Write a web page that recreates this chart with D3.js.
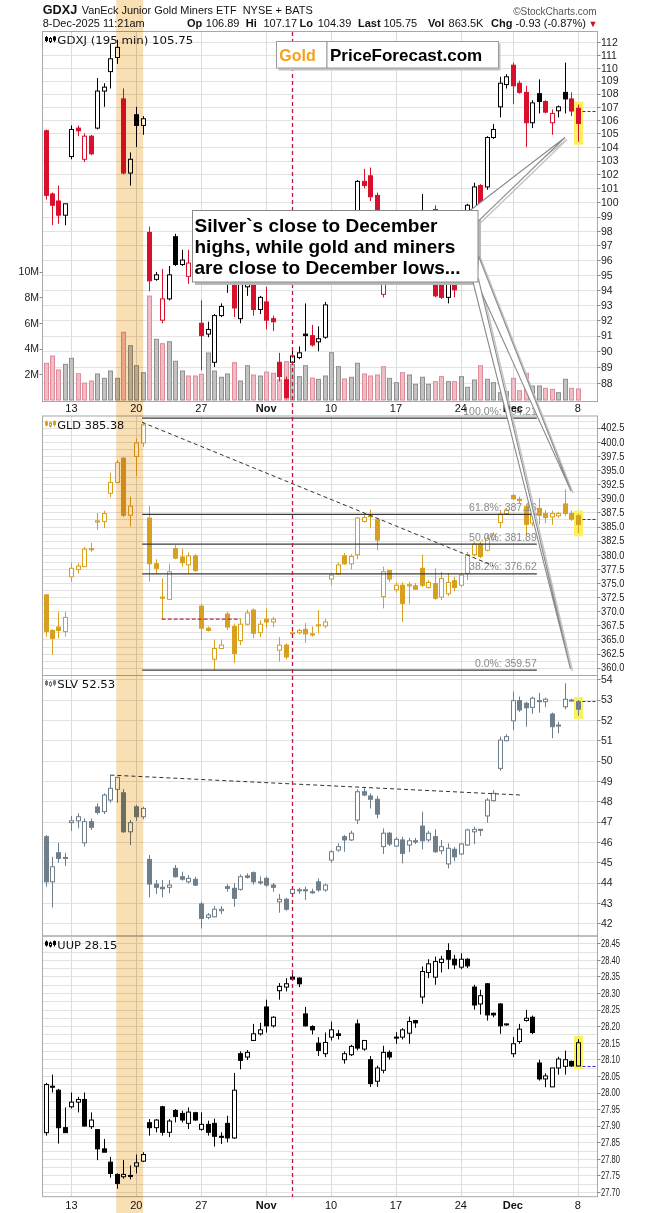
<!DOCTYPE html>
<meta charset="utf-8">
<style>

body {
  margin: 0;
  background: #fff;
}

svg {
  display: block;
  font-family: "Liberation Sans", Arial, sans-serif;
}

</style>
<svg width="646" height="1213"></svg>
<script src="https://d3js.org/d3.v7.min.js"></script>
<script>

// 195-minute bars, Oct 9 2025 .. Dec 8 2025, values are [open, high, low, close]
var gdxj = [
  [105.2,105.3,100.2,100.5],[100.6,100.7,98.4,99.8],[100.1,101.2,98.5,99.1],[99.1,99.9,98.4,99.9],
  [103.3,105.6,103.1,105.3],[105.4,105.6,104.8,105.2],[103.1,105.0,102.9,104.8],[104.8,104.9,103.4,103.5],
  [105.4,109.2,105.3,108.2],[108.2,108.8,107.0,108.5],[109.7,111.9,108.4,110.7],[110.8,112.2,110.3,111.6],
  [107.6,108.4,102.0,102.1],[102.1,103.6,101.2,103.1],[106.4,107.0,104.0,105.6],[105.6,106.3,104.9,106.1],
  [97.9,98.3,93.9,94.6],[94.7,95.2,94.6,95.0],[92.0,95.4,91.8,93.4],[93.4,95.6,93.3,95.0],
  [97.6,97.8,95.6,95.7],[95.7,96.7,95.6,96.0],[94.9,96.7,94.4,95.8],[96.0,96.5,95.1,95.3],
  [91.8,93.3,88.8,91.0],[91.1,91.9,90.9,91.4],[89.3,92.4,89.0,92.3],[92.3,93.1,92.2,92.9],
  [95.2,97.5,93.8,96.8],[96.5,97.0,92.2,92.8],[92.1,96.5,91.8,95.8],[94.2,97.3,93.6,96.5],
  [96.0,96.5,92.3,92.7],[92.7,93.6,92.4,93.5],[93.2,94.2,91.4,92.0],[92.1,92.3,91.3,91.9],
  [89.3,89.9,88.1,88.4],[88.2,88.4,87.0,87.1],[89.3,90.2,89.2,89.7],[89.6,90.3,89.5,89.9],
  [91.1,93.1,90.0,91.0],[91.0,91.7,90.3,90.4],[90.6,91.6,90.0,90.8],[90.9,93.2,90.8,93.0],
  [96.5,98.0,96.0,97.5],[97.5,98.5,97.0,98.0],[98.0,98.6,97.2,97.8],[97.8,99.2,97.5,98.8],
  [98.8,101.6,98.5,101.5],[101.5,102.4,101.0,101.2],[101.9,102.5,100.1,100.4],[100.5,100.7,98.8,99.3],
  [93.7,95.5,93.5,94.5],[95.3,97.0,95.1,96.5],[96.5,98.0,96.0,97.5],[97.5,98.0,96.2,96.8],
  [96.5,97.6,96.0,97.2],[97.2,98.2,96.8,97.8],[97.8,100.6,97.4,98.5],[98.5,99.4,98.0,99.2],
  [99.5,99.8,93.5,93.6],[95.5,96.0,93.4,93.5],[93.5,96.0,93.1,95.5],[95.6,96.0,93.5,94.0],
  [95.5,97.5,95.2,97.0],[97.5,99.9,97.0,99.8],[99.0,101.4,98.5,101.1],[101.2,101.3,99.6,99.9],
  [101.1,104.8,100.9,104.7],[104.7,105.7,104.6,105.3],[107.0,109.3,106.2,108.8],[108.7,109.5,108.4,109.3],
  [110.2,110.4,107.2,108.6],[108.8,109.0,108.0,108.1],[108.1,108.6,104.0,105.8],[105.8,107.5,105.4,107.3],
  [108.0,109.1,106.5,107.4],[107.4,107.5,106.5,106.6],[105.8,106.8,104.9,106.5],[106.7,107.1,106.2,107.0],
  [108.1,110.4,106.5,107.6],[107.6,108.1,106.3,106.68],[106.89,107.17,104.39,105.75]
];

// GDXJ volume, millions of shares
var gdxjVolume = [
  2.86,3.43,2.34,2.78,3.25,2.05,1.32,1.48,2.03,1.69,2.26,1.69,5.28,4.23,2.67,2.13,
  8.1,4.73,4.39,4.54,3.02,2.26,1.87,1.87,2.0,3.66,2.26,1.77,2.03,2.91,1.48,2.67,
  1.95,1.87,2.18,2.08,1.56,2.99,2.78,1.82,2.67,1.71,1.61,1.87,3.69,2.6,1.64,1.77,
  2.86,2.03,1.87,1.95,2.6,1.69,1.35,2.13,1.95,1.22,1.77,1.22,1.43,1.82,1.43,1.43,
  1.82,0.99,1.56,2.67,1.61,1.35,0.57,0.65,1.69,0.72,2.08,1.09,1.09,0.91,0.83,0.57,
  1.61,0.91,0.86
];

var gld = [
  [372.9,373.0,365.5,366.4],[366.6,366.8,362.3,365.2],[367.2,369.9,365.2,366.6],[366.4,369.9,365.5,368.9],
  [376.1,378.6,375.2,377.6],[377.4,378.5,376.7,378.0],[377.9,381.4,377.8,381.0],[381.1,382.1,380.5,380.9],
  [385.8,387.4,384.4,386.0],[385.9,387.8,384.7,387.3],[390.9,394.5,390.2,392.8],[392.8,396.8,392.7,396.3],
  [397.1,397.3,386.7,387.0],[387.0,390.3,385.0,388.6],[397.4,400.6,393.9,399.8],[399.8,403.4,399.1,403.0],
  [386.5,388.6,375.2,378.4],[378.4,379.2,376.6,377.6],[372.5,375.8,368.6,372.3],[372.1,378.4,372.0,377.0],
  [381.1,381.7,379.2,379.4],[379.6,381.1,377.9,378.6],[378.2,380.4,376.7,379.8],[379.8,380.1,377.0,377.2],
  [370.9,371.3,364.9,367.0],[367.0,367.3,366.4,366.6],[361.5,365.0,359.6,363.4],[363.4,365.0,363.3,364.0],
  [369.5,369.9,366.7,367.2],[367.3,367.8,360.8,362.5],[364.8,368.7,364.0,367.7],[367.7,370.3,367.5,369.7],
  [370.2,370.5,365.2,366.1],[366.2,368.4,365.4,367.7],[368.6,370.5,367.0,368.1],[368.1,369.0,367.2,368.6],
  [363.1,365.4,361.1,364.0],[364.0,364.3,361.5,361.9],[366.1,366.6,365.8,366.2],[366.2,366.9,365.9,366.6],
  [366.8,367.9,364.4,366.0],[366.0,367.3,365.5,365.8],[367.4,370.2,366.1,367.6],[367.4,368.7,367.0,368.1],
  [375.7,376.8,374.6,376.4],[376.6,378.6,376.4,378.2],[379.8,380.3,378.2,378.4],[378.4,380.1,377.4,379.7],
  [380.0,386.7,379.2,386.5],[385.9,387.0,385.7,386.6],[386.8,388.0,384.7,386.9],[386.2,386.5,380.8,382.6],
  [372.6,377.9,370.5,377.0],[377.2,377.3,375.2,375.7],[373.8,375.1,373.3,374.6],[374.6,375.1,368.1,371.4],
  [374.5,375.2,371.3,374.7],[374.5,375.0,373.8,373.9],[377.6,380.0,374.3,374.6],[374.2,375.5,374.0,375.1],
  [374.9,377.6,372.0,372.3],[372.5,377.0,372.0,375.8],[373.1,376.8,372.7,375.1],[375.4,376.1,373.5,374.2],
  [374.6,376.7,374.3,376.4],[376.7,380.5,375.5,380.0],[380.0,382.3,379.7,381.9],[381.9,382.3,379.4,379.7],
  [380.8,383.5,380.6,382.9],[382.7,384.0,382.5,383.5],[385.7,387.9,384.7,387.2],[387.3,388.3,387.1,387.9],
  [390.5,390.8,389.7,389.9],[389.8,390.3,389.1,389.6],[388.5,388.8,383.5,385.4],[385.6,388.0,385.1,387.3],
  [388.2,390.0,385.4,387.0],[387.3,387.9,385.6,386.6],[386.7,387.8,385.3,387.3],[386.9,387.6,386.5,387.3],
  [389.0,391.6,386.9,387.3],[387.3,387.8,386.0,386.3],[386.9,387.3,383.8,385.38]
];

var slv = [
  [46.26,46.34,43.80,44.04],[44.04,45.27,42.78,44.78],[45.47,45.96,44.98,45.19],[45.24,45.47,44.82,45.20],
  [46.95,47.28,46.55,47.04],[47.04,47.41,46.67,47.24],[45.96,47.16,45.77,47.00],[47.00,47.16,46.59,46.72],
  [47.72,47.90,47.35,47.45],[47.49,48.39,47.37,48.31],[48.06,49.29,47.93,48.64],[48.59,49.20,47.93,49.18],
  [48.42,48.60,46.45,46.50],[46.50,47.08,45.85,46.95],[47.73,47.82,47.04,47.24],[47.24,47.73,47.11,47.65],
  [45.14,45.36,43.28,43.93],[43.93,44.13,43.44,43.77],[43.77,44.13,43.28,43.70],[43.77,44.13,43.47,43.88],
  [44.70,44.87,44.25,44.29],[44.29,44.54,44.10,44.17],[44.04,44.37,43.96,44.21],[44.16,44.29,43.83,43.88],
  [42.95,43.06,41.75,42.24],[42.29,42.50,42.20,42.41],[42.32,42.85,42.29,42.69],[42.62,42.85,42.45,42.69],
  [43.80,43.93,43.55,43.72],[43.72,43.97,42.81,43.23],[43.67,44.40,43.60,44.29],[44.33,44.45,44.20,44.26],
  [44.49,44.55,43.90,44.04],[44.02,44.30,43.90,44.04],[44.21,44.30,43.80,43.88],[43.88,43.98,43.55,43.77],
  [43.06,43.44,42.52,43.18],[43.18,43.25,42.62,42.69],[43.47,43.75,43.40,43.67],[43.62,43.75,43.45,43.65],
  [43.65,43.80,43.15,43.60],[43.55,43.70,43.45,43.50],[44.04,44.21,43.55,43.64],[43.64,43.95,43.55,43.88],
  [45.11,45.60,44.98,45.52],[45.60,45.93,45.52,45.77],[46.26,46.34,45.52,46.10],[46.10,46.55,46.05,46.43],
  [47.08,48.59,46.88,48.47],[48.47,48.65,48.25,48.31],[48.26,48.39,47.65,48.10],[48.10,48.26,47.16,47.37],
  [45.77,46.67,45.41,46.43],[46.43,46.50,45.80,45.90],[45.80,46.25,45.75,46.13],[46.10,46.26,44.95,45.44],
  [45.85,46.20,45.50,46.06],[46.06,46.20,45.90,46.00],[46.78,47.49,45.64,46.06],[46.10,46.55,46.00,46.43],
  [46.26,46.62,45.47,45.52],[45.57,46.10,45.40,45.77],[44.92,45.93,44.70,45.69],[45.64,45.75,45.05,45.27],
  [45.41,45.95,45.35,45.90],[45.85,46.65,45.80,46.59],[46.50,46.75,45.90,46.62],[46.62,46.63,46.30,46.60],
  [47.28,48.16,46.95,48.06],[48.03,48.55,48.00,48.39],[49.62,51.18,49.50,51.01],[50.98,51.30,50.95,51.18],
  [51.96,53.39,51.50,52.95],[52.95,53.15,52.40,52.49],[52.82,52.90,51.67,52.60],[52.62,53.15,52.30,53.07],
  [52.95,53.34,52.36,52.92],[52.90,53.10,52.62,53.02],[52.29,52.36,51.10,51.67],[51.70,51.91,51.34,51.75],
  [52.65,53.80,52.52,53.02],[52.98,53.05,52.90,52.95],[52.90,52.98,52.20,52.53]
];

var uup = [
  [27.879,28.029,27.870,28.024],[28.019,28.054,28.000,28.016],[28.007,28.011,27.846,27.894],[27.894,27.955,27.879,27.879],
  [27.957,28.000,27.952,27.971],[27.971,27.987,27.940,27.979],[27.979,28.000,27.897,27.899],[27.897,27.940,27.890,27.917],
  [27.888,27.890,27.796,27.830],[27.830,27.860,27.826,27.820],[27.790,27.806,27.743,27.756],[27.753,27.756,27.710,27.726],
  [27.746,27.796,27.740,27.753],[27.750,27.780,27.738,27.748],[27.778,27.813,27.756,27.788],[27.793,27.820,27.790,27.813],
  [27.909,27.920,27.870,27.894],[27.894,27.920,27.880,27.917],[27.957,27.960,27.870,27.880],[27.880,27.920,27.866,27.914],
  [27.946,27.950,27.910,27.928],[27.937,27.945,27.910,27.917],[27.907,27.955,27.890,27.941],[27.939,27.942,27.915,27.917],
  [27.889,27.940,27.885,27.904],[27.904,27.915,27.870,27.880],[27.907,27.921,27.837,27.868],[27.868,27.880,27.845,27.866],
  [27.907,27.930,27.850,27.863],[27.863,28.059,27.860,28.007],[28.117,28.124,28.070,28.097],[28.107,28.128,28.098,28.121],
  [28.157,28.207,28.157,28.177],[28.177,28.210,28.172,28.189],[28.258,28.280,28.181,28.201],[28.201,28.230,28.196,28.227],
  [28.307,28.330,28.280,28.320],[28.318,28.345,28.305,28.328],[28.348,28.357,28.340,28.342],[28.345,28.348,28.318,28.328],
  [28.237,28.258,28.199,28.201],[28.199,28.203,28.175,28.189],[28.149,28.167,28.110,28.127],[28.117,28.181,28.107,28.151],
  [28.167,28.214,28.157,28.189],[28.177,28.189,28.160,28.172],[28.099,28.124,28.087,28.117],[28.114,28.144,28.110,28.139],
  [28.207,28.220,28.127,28.134],[28.131,28.157,28.126,28.157],[28.099,28.110,28.017,28.027],[28.034,28.081,28.017,28.074],
  [28.067,28.141,28.058,28.121],[28.121,28.127,28.099,28.107],[28.165,28.182,28.147,28.167],[28.167,28.194,28.160,28.189],
  [28.179,28.229,28.147,28.214],[28.217,28.219,28.195,28.210],[28.288,28.380,28.268,28.365],[28.362,28.402,28.345,28.388],
  [28.348,28.410,28.325,28.395],[28.392,28.412,28.362,28.402],[28.428,28.450,28.372,28.402],[28.402,28.415,28.372,28.385],
  [28.378,28.420,28.372,28.402],[28.402,28.405,28.375,28.382],[28.318,28.325,28.250,28.264],[28.267,28.310,28.235,28.292],
  [28.328,28.330,28.217,28.234],[28.239,28.241,28.227,28.234],[28.267,28.270,28.177,28.201],[28.205,28.208,28.201,28.207],
  [28.117,28.167,28.107,28.147],[28.154,28.207,28.147,28.191],[28.217,28.249,28.214,28.224],[28.227,28.232,28.176,28.181],
  [28.089,28.099,28.036,28.041],[28.041,28.058,28.016,28.050],[28.017,28.074,28.017,28.074],[28.074,28.108,28.054,28.101],
  [28.079,28.126,28.054,28.099],[28.094,28.096,28.077,28.080],[28.080,28.161,28.079,28.150]
];

// x axis: bar index of the first bar of each labelled week
var tickBars = [4, 14, 24, 34, 44, 54, 64, 72, 82];
var tickLabels = ["13", "20", "27", "Nov", "10", "17", "24", "Dec", "8"];

var gdxjTicks = d3.range(88, 113);
var volTicks = [2, 4, 6, 8, 10];
var gldTicks = d3.range(0, 18).map(function(k) { return 360 + 2.5 * k; });
var slvTicks = d3.range(42, 55);
var uupTicks = d3.range(0, 16).map(function(k) { return +(27.70 + 0.05 * k).toFixed(2); });

// Fibonacci retracement on GLD
var fibLevels = [404.21, 387.16, 381.89, 376.62, 359.57];
var fibNames = ["100.0%", "61.8%", "50.0%", "38.2%", "0.0%"];
var fibSpan = [14.9, 75.7];

// trend lines as [bar, price]
var gldTrend = [[14.87, 403.46], [69.0, 378.06]];
var gldSupport = [[17.9, 368.6], [30.0, 368.6]];
var slvTrend = [[10.0, 49.29], [73.1, 48.31]];

var shadeBars = [10.9, 15.05];
var markerBar = 38.0;

var calloutLines = ["Silver`s close to December", "highs, while gold and miners", "are close to December lows..."];

var svg = d3.select("svg");
var left = 42, right = 597.5;

var x = d3.scaleLinear().domain([0, 82]).range([45.5, 577.7]);

var panels = [
  { data: gdxj, top: 31.5, bottom: 401.5, ticks: gdxjTicks, grid: gdxjTicks, fmt: d3.format("d"), squeeze: 1,
    y: d3.scaleLog().domain([88, 112]).range([383, 42.3]), title: "GDXJ (195 min) 105.75", titleW: 136,
    up: "#000", down: "#d8102c", colorByPrev: true, icon: "#000" },
  { data: gld, top: 416, bottom: 675.5, ticks: gldTicks, grid: d3.range(0, 36).map(function(k) { return 360 + 1.25 * k; }),
    fmt: d3.format(".1f"), squeeze: 0.89,
    y: d3.scaleLinear().domain([360, 402.5]).range([667.7, 427.7]), title: "GLD 385.38", titleW: 67,
    up: "#d7a01f", down: "#d7a01f", icon: "#d7a01f" },
  { data: slv, top: 675.5, bottom: 936, ticks: slvTicks, grid: slvTicks, fmt: d3.format("d"), squeeze: 1,
    y: d3.scaleLinear().domain([42, 54]).range([923.3, 679.3]), title: "SLV 52.53", titleW: 58,
    up: "#6e7e8b", down: "#6e7e8b", icon: "#6e7e8b" },
  { data: uup, top: 936, bottom: 1196.7, ticks: uupTicks, grid: d3.range(0, 31).map(function(k) { return 27.70 + 0.025 * k; }),
    fmt: d3.format(".2f"), squeeze: 0.72,
    y: d3.scaleLinear().domain([27.70, 28.45]).range([1192, 943.3]), title: "UUP 28.15", titleW: 60,
    up: "#000", down: "#000", icon: "#000" }
];

var volY = d3.scaleLinear().domain([0, 10]).range([400, 271.7]);

function px(v) { return Math.round(v) + 0.5; }

function isDown(data, i) {
  var ref = i > 0 ? data[i - 1][3] : data[i][0];
  return data[i][3] < ref;
}

svg.append("rect").attr("width", 646).attr("height", 1213).attr("fill", "#fff");

// gridlines and frames
panels.forEach(function(p) {
  var g = svg.append("g");
  g.selectAll("line.h")
    .data(p.grid.filter(function(v) { var yy = p.y(v); return yy > p.top + 1 && yy < p.bottom - 1; }))
    .join("line")
      .attr("x1", left).attr("x2", right)
      .attr("y1", function(v) { return px(p.y(v)); })
      .attr("y2", function(v) { return px(p.y(v)); })
      .attr("stroke", "#e2e2e2");
  g.selectAll("line.v")
    .data(tickBars)
    .join("line")
      .attr("x1", function(b) { return px(x(b)); })
      .attr("x2", function(b) { return px(x(b)); })
      .attr("y1", p.top).attr("y2", p.bottom)
      .attr("stroke", "#dcdcdc");
  g.append("rect")
      .attr("x", left + 0.5).attr("y", p.top)
      .attr("width", right - left - 0.5).attr("height", p.bottom - p.top)
      .attr("fill", "none").attr("stroke", "#a8a8a8");
});

// GDXJ volume
svg.append("g").selectAll("rect")
  .data(gdxjVolume)
  .join("rect")
    .attr("x", function(d, i) { return px(x(i)) - 2; })
    .attr("width", 4)
    .attr("y", function(d) { return volY(d); })
    .attr("height", function(d) { return 400 - volY(d); })
    .attr("fill", function(d, i) { return isDown(gdxj, i) ? "#f2bcc4" : "#c2c2c2"; })
    .attr("stroke", function(d, i) { return isDown(gdxj, i) ? "#df8c9a" : "#8f8f8f"; });

// highlight of the last bar and previous close line
panels.forEach(function(p) {
  var last = p.data.length - 1, d = p.data[last];
  var cx = px(x(last));
  svg.append("rect")
      .attr("x", cx - 4.5).attr("width", 9)
      .attr("y", p.y(d[1]) - 3).attr("height", p.y(d[2]) - p.y(d[1]) + 6)
      .attr("fill", "#fbf15a");
  var prev = p.data[last - 1][3];
  svg.append("line")
      .attr("x1", cx + 4).attr("x2", right)
      .attr("y1", px(p.y(prev))).attr("y2", px(p.y(prev)))
      .attr("stroke", "#2b2bd6").attr("stroke-dasharray", "3,2");
});

// candles
panels.forEach(function(p) {
  var last = p.data.length - 1;
  var g = svg.append("g");
  var color = function(d, i) {
    if (!p.colorByPrev) return p.up;
    return isDown(p.data, i) ? p.down : p.up;
  };
  var c = g.selectAll("g").data(p.data).join("g");
  c.append("line")
      .attr("x1", function(d, i) { return px(x(i)); })
      .attr("x2", function(d, i) { return px(x(i)); })
      .attr("y1", function(d) { return p.y(d[1]); })
      .attr("y2", function(d) { return p.y(d[2]); })
      .attr("stroke", color);
  c.append("rect")
      .attr("x", function(d, i) { return px(x(i)) - 2; })
      .attr("width", 4)
      .attr("y", function(d) { return p.y(Math.max(d[0], d[3])); })
      .attr("height", function(d) { return Math.max(1, Math.abs(p.y(d[0]) - p.y(d[3]))); })
      .attr("fill", function(d, i) { return d[3] < d[0] ? color(d, i) : (i === last ? "#fbf15a" : "#fff"); })
      .attr("stroke", color);
});

// GLD fibonacci lines and trend lines
var gy = panels[1].y;
svg.append("g").selectAll("line")
  .data(fibLevels)
  .join("line")
    .attr("x1", x(fibSpan[0])).attr("x2", x(fibSpan[1]))
    .attr("y1", function(v) { return gy(v); }).attr("y2", function(v) { return gy(v); })
    .attr("stroke", "#3a3a3a").attr("stroke-width", 1.3);

svg.append("g").selectAll("text")
  .data(fibLevels)
  .join("text")
    .attr("x", x(fibSpan[1]))
    .attr("y", function(v) { return gy(v) - 3.5; })
    .attr("text-anchor", "end")
    .attr("font-size", 10.5)
    .attr("fill", "#8a8a8a")
    .text(function(v, i) { return fibNames[i] + ": " + v.toFixed(2); });

var line = function(y) {
  return d3.line().x(function(d) { return x(d[0]); }).y(function(d) { return y(d[1]); });
};

svg.append("path").attr("d", line(gy)(gldTrend))
    .attr("fill", "none").attr("stroke", "#333").attr("stroke-dasharray", "4,3");
svg.append("path").attr("d", line(gy)(gldSupport))
    .attr("fill", "none").attr("stroke", "#c8203c").attr("stroke-dasharray", "4,2").attr("stroke-width", 1.2);
svg.append("path").attr("d", line(panels[2].y)(slvTrend))
    .attr("fill", "none").attr("stroke", "#333").attr("stroke-dasharray", "4,3");

// red vertical marker
svg.append("line")
    .attr("x1", px(x(markerBar))).attr("x2", px(x(markerBar)))
    .attr("y1", 32).attr("y2", 1197)
    .attr("stroke", "#c0183c").attr("stroke-width", 1.3).attr("stroke-dasharray", "4,3");

// right axis labels
panels.forEach(function(p) {
  var g = svg.append("g");
  var ticks = p.ticks.filter(function(v) { var yy = p.y(v); return yy >= p.top - 2 && yy <= p.bottom + 2; });
  g.selectAll("line")
    .data(ticks)
    .join("line")
      .attr("x1", right).attr("x2", right + 3)
      .attr("y1", function(v) { return px(p.y(v)); })
      .attr("y2", function(v) { return px(p.y(v)); })
      .attr("stroke", "#888");
  g.selectAll("text")
    .data(ticks)
    .join("text")
      .attr("transform", function(v) { return "translate(601," + p.y(v) + ") scale(" + p.squeeze + ",1)"; })
      .attr("dy", "0.36em")
      .attr("font-size", 10.5)
      .attr("fill", "#222")
      .text(p.fmt);
});

// volume labels
svg.append("g").selectAll("text")
  .data(volTicks)
  .join("text")
    .attr("x", 39)
    .attr("y", function(v) { return volY(v); })
    .attr("dy", "0.36em")
    .attr("text-anchor", "end")
    .attr("font-size", 10.5)
    .attr("fill", "#222")
    .text(function(v) { return v + "M"; });
svg.append("g").selectAll("line")
  .data(volTicks)
  .join("line")
    .attr("x1", 39.5).attr("x2", 42)
    .attr("y1", function(v) { return px(volY(v)); })
    .attr("y2", function(v) { return px(volY(v)); })
    .attr("stroke", "#888");

// x axis labels (below GDXJ and below UUP)
[412, 1208.5].forEach(function(yy) {
  svg.append("g").selectAll("text")
    .data(tickBars)
    .join("text")
      .attr("x", function(b) { return x(b); })
      .attr("y", yy)
      .attr("text-anchor", "middle")
      .attr("font-size", 11)
      .attr("font-weight", function(b, i) { return isNaN(+tickLabels[i]) ? "bold" : "normal"; })
      .attr("fill", "#111")
      .text(function(b, i) { return tickLabels[i]; });
});

// panel titles
panels.forEach(function(p) {
  var ty = p.top + 9.5;
  var ic = svg.append("g").attr("stroke", p.icon).attr("fill", p.icon);
  ic.append("line").attr("x1", 46.5).attr("x2", 46.5).attr("y1", ty - 5).attr("y2", ty + 1);
  ic.append("rect").attr("x", 45.5).attr("y", ty - 3.5).attr("width", 2).attr("height", 3);
  ic.append("line").attr("x1", 50.5).attr("x2", 50.5).attr("y1", ty - 4).attr("y2", ty + 2);
  ic.append("rect").attr("x", 49.5).attr("y", ty - 2.5).attr("width", 2).attr("height", 3).attr("fill", "#fff");
  ic.append("line").attr("x1", 54.5).attr("x2", 54.5).attr("y1", ty - 5).attr("y2", ty + 1);
  ic.append("rect").attr("x", 53.5).attr("y", ty - 4).attr("width", 2).attr("height", 3);
  svg.append("text")
      .attr("x", 57.3).attr("y", ty + 3)
      .attr("font-family", "DejaVu Sans, sans-serif")
      .attr("font-size", 10.5)
      .attr("textLength", p.titleW).attr("lengthAdjust", "spacingAndGlyphs")
      .attr("fill", "#111")
      .text(p.title);
});

// callout pointers and box
var callout = svg.append("g");
var wedges = [
  [[470, 210.5], [565, 137.5], [478.5, 221]],
  [[476.8, 282], [571, 491], [478.5, 256]],
  [[473, 282], [570.5, 669], [478.5, 279]]
];
var wedgePath = function(d) { return "M" + d.join("L") + "Z"; };
callout.selectAll("path.s")
  .data(wedges)
  .join("path")
    .attr("d", wedgePath)
    .attr("transform", "translate(2,2)")
    .attr("fill", "none").attr("stroke", "#c4c4c4").attr("stroke-width", 1.4);
callout.append("rect").attr("x", 195).attr("y", 213).attr("width", 286).attr("height", 72).attr("fill", "#b8b8b8");
callout.selectAll("path.w")
  .data(wedges)
  .join("path")
    .attr("d", wedgePath)
    .attr("fill", "#fff").attr("stroke", "#8a8a8a").attr("stroke-width", 1.1);
callout.append("rect").attr("x", 192.5).attr("y", 210.5).attr("width", 285.5).attr("height", 71.5)
    .attr("fill", "#fff").attr("stroke", "#8a8a8a");
callout.selectAll("text")
  .data(calloutLines)
  .join("text")
    .attr("x", 194.5)
    .attr("y", function(d, i) { return 231.7 + i * 21.3; })
    .attr("font-size", 19)
    .attr("font-weight", "bold")
    .attr("fill", "#000")
    .text(function(d) { return d; });

// logo boxes
var logo = svg.append("g");
logo.append("rect").attr("x", 278.5).attr("y", 43.5).attr("width", 222).attr("height", 27).attr("fill", "#c4c4c4");
logo.append("rect").attr("x", 276.5).attr("y", 41.5).attr("width", 50.5).attr("height", 26.5)
    .attr("fill", "#fff").attr("stroke", "#9a9a9a");
logo.append("rect").attr("x", 327).attr("y", 41.5).attr("width", 171.5).attr("height", 26.5)
    .attr("fill", "#fff").attr("stroke", "#9a9a9a");
logo.append("text").attr("x", 279.3).attr("y", 60.7)
    .attr("font-size", 16).attr("font-weight", "bold").attr("fill", "#f5a21c").text("Gold");
logo.append("text").attr("x", 330).attr("y", 60.7)
    .attr("font-size", 17).attr("font-weight", "bold").attr("fill", "#000").text("PriceForecast.com");

// header
var head = svg.append("g").attr("fill", "#111");
head.append("text").attr("x", 42.7).attr("y", 14.2).attr("font-size", 13).attr("font-weight", "bold")
    .attr("textLength", 34.5).attr("lengthAdjust", "spacingAndGlyphs").text("GDXJ");
head.append("text").attr("x", 81.7).attr("y", 14.2).attr("font-size", 11)
    .attr("textLength", 155).attr("lengthAdjust", "spacingAndGlyphs").text("VanEck Junior Gold Miners ETF");
head.append("text").attr("x", 242.7).attr("y", 14.2).attr("font-size", 10.5)
    .attr("textLength", 70).attr("lengthAdjust", "spacingAndGlyphs").text("NYSE + BATS");
head.append("text").attr("x", 596.7).attr("y", 15.3).attr("font-size", 10).attr("text-anchor", "end")
    .attr("fill", "#555").text("\u00a9StockCharts.com");
head.append("text").attr("x", 42.7).attr("y", 26.8).attr("font-size", 11)
    .attr("textLength", 102).attr("lengthAdjust", "spacingAndGlyphs").text("8-Dec-2025 11:21am");

var quote = [
  [187, "Op", true], [205.8, "106.89", false], [245.7, "Hi", true], [263.4, "107.17", false],
  [299.6, "Lo", true], [317.7, "104.39", false], [358, "Last", true], [383.5, "105.75", false],
  [428, "Vol", true], [448.6, "863.5K", false], [491, "Chg", true], [515.6, "-0.93 (-0.87%)", false]
];
head.selectAll("text.q")
  .data(quote)
  .join("text")
    .attr("x", function(d) { return d[0]; })
    .attr("y", 26.8)
    .attr("font-size", 11)
    .attr("font-weight", function(d) { return d[2] ? "bold" : "normal"; })
    .text(function(d) { return d[1]; });
head.append("text").attr("x", 588.5).attr("y", 26.5).attr("font-size", 9).attr("fill", "#c8102e").text("\u25bc");

// orange highlight band across everything
svg.append("rect")
    .attr("x", x(shadeBars[0])).attr("width", x(shadeBars[1]) - x(shadeBars[0]))
    .attr("y", 0).attr("height", 1213)
    .attr("fill", "#f9dfb4")
    .style("mix-blend-mode", "multiply");

</script>
